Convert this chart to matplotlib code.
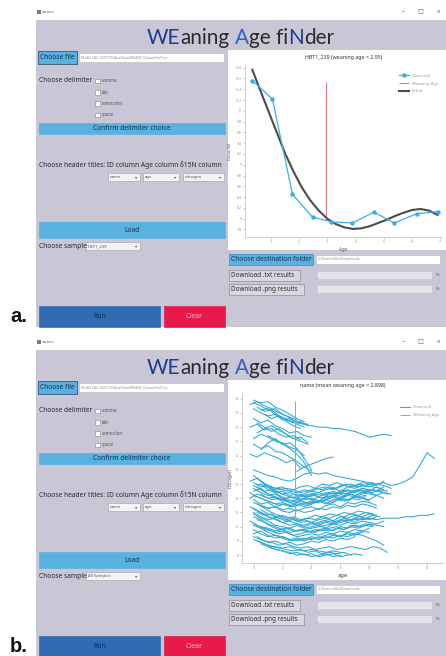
import matplotlib.pyplot as plt
from matplotlib.patches import Rectangle
import numpy as np

plt.rcParams['font.family'] = ['Noto Sans', 'DejaVu Sans']

# single sample HBT1_239: measured values and fitted curve
obs_age = [0.35, 1.06, 1.77, 2.48, 3.15, 3.89, 4.65, 5.37, 6.16, 6.91]
obs_n15 = [10.56, 10.22, 8.45, 8.03, 7.94, 7.92, 8.12, 7.92, 8.09, 8.13]
fit_age = [0.35, 0.6, 0.9, 1.2, 1.5, 1.8, 2.1, 2.4, 2.7, 3.0, 3.3, 3.6, 3.9,
           4.2, 4.5, 4.8, 5.1, 5.4, 5.7, 6.0, 6.3, 6.6, 6.9]
fit_n15 = [10.76, 10.42, 10.02, 9.62, 9.22, 8.88, 8.58, 8.34, 8.15, 8.00, 7.90, 7.84, 7.81,
           7.82, 7.86, 7.92, 7.98, 8.05, 8.11, 8.16, 8.18, 8.15, 8.07]
wean_a = 2.95
yticks_a = [7.8, 8.0, 8.2, 8.4, 8.6, 8.8, 9.0, 9.2, 9.4, 9.6, 9.8, 10.0, 10.2, 10.4, 10.6, 10.8]
xticks_a = [1, 2, 3, 4, 5, 6, 7]

# all samples: (first age, nitrogen values every half year)
age_step = 0.5
high_group = [
    (0.0, [18.9, 18.7, 18.8, 18.4, 18.2, 17.9, 17.6, 17.4]),
    (-0.25, [18.6, 18.8, 18.5, 18.3, 18.0, 17.8, 17.5, 17.3, 17.2]),
    (0.25, [18.4, 18.1, 18.2, 17.8, 17.6, 17.3, 17.4, 17.1]),
    (0.5, [18.2, 18.3, 17.9, 17.5, 17.6, 17.2, 17.0]),
    (0.0, [18.7, 18.5, 18.2, 18.3, 17.9, 17.7, 17.5]),
    (0.0, [18.3, 18.0, 17.8, 17.9, 17.6, 17.4, 17.3, 17.2, 17.1, 17.0,
           17.0, 16.9, 16.9, 16.8, 16.7, 16.5, 16.3, 16.4, 16.5, 16.4]),
    (0.75, [17.9, 17.6, 17.8, 17.4, 17.1, 16.9]),
    (0.0, [17.6, 17.3, 17.5, 17.1, 16.9, 16.6, 16.7, 16.4, 16.3]),
    (-0.25, [17.0, 17.2, 16.8, 16.9, 16.5, 16.3, 16.4, 16.1]),
    (0.25, [17.3, 17.0, 16.7, 16.9, 16.5, 16.2, 16.3, 15.9]),
    (0.25, [16.6, 16.9, 17.1, 16.8, 16.5, 16.2, 16.0, 15.8]),
    (0.0, [16.2, 16.5, 16.3, 16.0, 15.9, 15.6, 15.4, 15.0]),
    (1.0, [16.4, 16.1, 15.8, 15.9, 15.5, 14.8, 14.0]),
    (0.0, [15.8, 15.5, 15.7, 15.3, 15.2, 14.9, 14.6, 14.2, 13.9]),
    (0.5, [15.4, 15.9, 16.2, 15.8, 15.5, 15.1, 14.5, 13.6]),
    (-0.25, [15.1, 14.9, 15.2, 15.0, 14.8, 14.5, 14.7, 14.1]),
    (0.0, [14.0, 13.8, 13.6, 13.5, 13.3, 13.2, 13.4]),
    (3.0, [13.9, 14.2, 14.4, 14.6, 14.8, 14.9]),
    (3.0, [13.4, 13.7, 13.8, 13.7, 13.8, 13.6, 13.5, 13.4, 13.3, 13.2,
           13.1, 13.0, 13.1, 12.9, 13.0, 13.2, 13.5, 14.3, 15.2, 14.8]),
]
mid_group = [
    (0.0, [13.6, 13.2, 12.9, 12.7, 12.8, 12.5, 12.4, 12.6, 12.5, 12.7, 12.8, 12.6, 12.9, 13.0, 12.8, 13.1, 13.0, 12.9, 13.2]),
    (0.0, [13.1, 12.8, 12.9, 12.5, 12.3, 12.4, 12.2, 12.3, 12.5, 12.4, 12.6, 12.7, 12.5, 12.8, 12.7, 12.9, 12.8, 13.0, 12.9, 12.7]),
    (0.25, [12.8, 12.5, 12.6, 12.2, 12.0, 12.1, 11.9, 12.1, 12.2, 12.0, 12.3, 12.4, 12.2, 12.5, 12.6, 12.4, 12.6, 12.5, 12.3]),
    (0.0, [12.5, 12.7, 12.3, 12.1, 11.9, 11.7, 11.8, 11.9, 12.0, 11.8, 12.1, 12.2, 12.0, 12.3, 12.2, 12.4, 12.3, 12.2]),
    (0.0, [12.2, 12.0, 11.8, 11.6, 11.7, 11.5, 11.6, 11.4, 11.7, 11.8, 11.6, 11.9, 12.0, 11.8, 12.1, 12.0, 11.9, 12.2, 12.0]),
    (0.5, [13.0, 12.6, 12.4, 12.5, 12.2, 12.3, 12.1, 12.3, 12.4, 12.2, 12.5, 12.3, 12.6, 12.4, 12.7, 12.5, 12.8, 12.6]),
    (0.0, [11.9, 11.6, 11.7, 11.4, 11.2, 11.3, 11.1, 11.3, 11.4, 11.2, 11.5, 11.6, 11.4, 11.7, 11.6, 11.8, 11.7, 11.5]),
    (0.25, [13.4, 13.0, 12.7, 12.4, 12.2, 12.0, 12.2, 12.1, 12.3, 12.2, 12.4, 12.3, 12.5, 12.4, 12.6, 12.5, 12.4, 12.6, 12.5]),
    (-0.25, [12.0, 12.3, 12.1, 11.9, 12.0, 11.8, 11.6, 11.8, 11.7, 11.9, 11.8, 12.0, 12.2, 12.1, 12.3, 12.1, 12.2]),
    (0.5, [11.5, 11.3, 11.4, 11.1, 11.0, 11.2, 11.0, 11.1, 11.3, 11.2, 11.4, 11.3, 11.5, 11.4, 11.6, 11.5, 11.3]),
    (0.0, [12.9, 12.6, 12.3, 12.0, 11.8, 11.9, 11.7, 11.6, 11.8, 11.7, 11.9, 12.1, 11.9, 12.2, 12.1, 12.3, 12.4, 12.2, 12.4, 12.3]),
    (-0.25, [13.2, 13.4, 13.0, 12.8, 12.6, 12.7, 12.6, 12.8, 12.9, 12.7, 13.0, 12.9, 13.1, 12.9, 13.0, 12.8, 12.9, 13.1]),
    (0.0, [12.7, 12.4, 12.2, 12.3, 12.0, 11.8, 11.9, 12.0, 11.9, 12.1, 12.0, 12.2, 12.4, 12.3, 12.5, 12.4, 12.6, 12.5, 12.4]),
    (0.25, [13.0, 12.9, 12.6, 12.7, 12.5, 12.6, 12.4, 12.5, 12.7, 12.6, 12.8, 12.7, 12.9, 12.8, 13.0, 12.9, 12.8, 12.7]),
    (-0.25, [12.4, 12.1, 11.9, 11.7, 11.5, 11.6, 11.4, 11.6, 11.5, 11.7, 11.8, 11.6, 11.9, 11.8, 12.0, 11.9, 12.1]),
    (0.5, [12.3, 12.0, 12.1, 11.9, 12.1, 12.0, 12.2, 12.3, 12.1, 12.4, 12.3, 12.5, 12.6, 12.4, 12.7, 12.6, 12.5, 12.8]),
    (0.0, [11.7, 11.5, 11.3, 11.4, 11.6, 11.4, 11.5, 11.7, 11.6, 11.8, 11.9, 11.7, 12.0, 11.9, 12.1, 12.0, 11.8]),
]
low_group = [
    (0.0, [11.3, 11.0, 10.7, 10.5, 10.3, 10.4, 10.2, 10.1, 10.3, 10.2, 10.4, 10.3, 10.5, 10.4, 10.6, 10.5, 10.6, 10.5]),
    (0.0, [10.9, 10.6, 10.4, 10.1, 10.0, 9.9, 10.1, 9.9, 10.0, 10.1, 9.9, 10.2, 10.1, 10.3, 10.2, 10.4, 10.3, 10.2, 10.4]),
    (0.25, [11.0, 10.8, 10.9, 10.6, 10.4, 10.5, 10.3, 10.4, 10.2, 10.4, 10.5, 10.3, 10.6, 10.5, 10.7, 10.6, 10.8, 10.7]),
    (-0.25, [10.4, 10.1, 9.8, 9.7, 9.5, 9.6, 9.4, 9.5, 9.7, 9.6, 9.8, 9.7, 9.9, 9.8, 10.0, 9.9, 10.1, 10.0]),
    (0.0, [10.1, 9.9, 9.6, 9.4, 9.3, 9.1, 9.2, 9.1, 9.3, 9.2, 9.4, 9.5, 9.3, 9.6, 9.5, 9.7, 9.6]),
    (0.5, [11.2, 10.9, 10.7, 10.8, 10.6, 10.4, 10.5, 10.3, 10.5, 10.6, 10.4, 10.7, 10.6, 10.8, 10.7, 10.9, 10.8]),
    (0.0, [9.8, 9.5, 9.3, 9.4, 9.2, 9.0, 9.1, 9.0, 9.2, 9.1, 9.3, 9.2, 9.4, 9.3, 9.5, 9.4, 9.2, 9.0, 8.7]),
    (0.0, [10.7, 10.5, 10.2, 10.0, 9.8, 9.9, 9.7, 9.8, 9.6, 9.8, 9.9, 9.7, 10.0, 9.9, 10.1, 10.0, 10.2, 10.1, 10.0]),
    (0.25, [11.6, 11.3, 11.0, 10.8, 10.6, 10.7, 10.5, 10.6, 10.8, 10.7, 10.9, 10.8, 11.0, 10.9, 11.1, 11.0, 10.9]),
    (0.0, [10.2, 10.0, 9.9, 9.7, 9.8, 9.6, 9.7, 9.8, 9.9, 10.0, 10.1, 10.2, 10.3,
           10.4, 10.5, 10.5, 10.6, 10.5, 10.6, 10.6, 10.6, 10.7, 10.7, 10.8, 10.8, 10.9]),
    (0.0, [9.5, 9.7, 9.4, 9.2, 9.3, 9.1, 9.0, 9.2, 9.1, 9.3, 9.2, 9.4, 9.3, 9.5, 9.4, 9.6]),
    (0.0, [11.0, 10.7, 10.5, 10.6, 10.3, 10.1, 10.2, 10.0, 10.2, 10.1, 10.3, 10.2, 10.4, 10.5, 10.3, 10.6, 10.5, 10.7]),
    (0.25, [10.5, 10.3, 10.0, 9.8, 9.9, 9.7, 9.8, 9.6, 9.8, 9.7, 9.9, 10.0, 9.8, 10.1, 10.0, 10.2, 10.1]),
    (-0.25, [11.4, 11.1, 10.9, 10.6, 10.7, 10.5, 10.6, 10.4, 10.6, 10.5, 10.7, 10.6, 10.8, 10.7, 10.9, 10.8, 11.0, 10.9]),
    (0.5, [10.0, 9.8, 9.6, 9.7, 9.5, 9.3, 9.4, 9.5, 9.4, 9.6, 9.5, 9.7, 9.6, 9.8, 9.7, 9.9]),
    (0.0, [9.3, 9.1, 8.9, 9.0, 8.8, 8.9, 8.7, 8.8, 9.0, 8.9, 9.1, 9.0, 9.2, 9.1, 9.3]),
]
bottom_group = [
    (0.25, [9.0, 8.8, 8.6, 8.5, 8.4, 8.3, 8.4, 8.2, 8.3, 8.1, 8.2, 8.1, 8.2, 8.0]),
    (0.5, [8.8, 8.6, 8.4, 8.3, 8.1, 8.2, 8.0, 8.1, 7.9, 8.0, 8.1, 7.9, 8.0, 8.1, 8.0]),
    (0.25, [9.3, 9.0, 8.9, 8.7, 8.8, 8.6, 8.5, 8.6, 8.4, 8.5, 8.6, 8.4, 8.5, 8.6, 8.5, 8.4, 8.6, 8.5, 8.2]),
    (0.0, [9.1, 8.9, 8.7, 8.6, 8.5, 8.6, 8.4, 8.3, 8.4, 8.3, 8.2, 8.3, 8.2]),
    (1.0, [8.6, 8.4, 8.3, 8.2, 8.0, 8.1, 7.9, 8.0, 8.1, 7.9, 8.0]),
]
wean_b = 2.898
yticks_b = [8, 9, 10, 11, 12, 13, 14, 15, 16, 17, 18, 19]
xticks_b = [0, 2, 4, 6, 8, 10, 12]

WIN = '#c9c7d5'
BTN = '#58b2e0'
NAVY = '#1d3a8c'
BLUE = '#2b62c4'
DARK = '#2a2a2e'
CYAN = '#38b1e0'
TITLE_FONT = ['Lato', 'Noto Sans', 'DejaVu Sans']

fig = plt.figure(figsize=(4.46, 6.56), dpi=100)
bg = fig.add_axes([0, 0, 1, 1])
bg.set_xlim(0, 446)
bg.set_ylim(656, 0)
bg.axis('off')
renderer = fig.canvas.get_renderer()


def box(x0, y0, x1, y1, fc, ec='none', lw=0.5, z=1):
    bg.add_patch(Rectangle((x0, y0), x1 - x0, y1 - y0, facecolor=fc,
                           edgecolor=ec, linewidth=lw, zorder=z))


def label(x, y, s, size=4.8, color=DARK, ha='left', **kw):
    return bg.text(x, y, s, fontsize=size, color=color, ha=ha, va='center', zorder=5, **kw)


def width(s, **kw):
    t = bg.text(0, 0, s, **kw)
    w = t.get_window_extent(renderer).width
    t.remove()
    return w


def dropdown(x0, x1, y, s):
    box(x0, y - 4, x1, y + 4, '#f3f3f6', '#9c9ca8', 0.4, z=2)
    label(x0 + 2, y, s, size=3.0, color='#555555')
    label(x1 - 3.5, y, '▾', size=3.2, color='#555555', ha='center')


def button(x0, y0, x1, y1, s, fc=BTN, tc='#1c2c50', size=4.8, ec='#3b8cbf'):
    box(x0, y0, x1, y1, fc, ec, 0.5, z=2)
    label((x0 + x1) / 2, (y0 + y1) / 2, s, size=size, color=tc, ha='center')


def flat_button(x0, y0, x1, y1, s):
    box(x0, y0, x1, y1, '#d9d8e2', '#8e8d99', 0.5, z=2)
    label(x0 + 2, (y0 + y1) / 2, s, size=4.5, color=DARK)


# title size chosen so the heading spans ~187 px
full_title = 'WEaning Age fiNder'
title_size = 18 * 187 / width(full_title, fontsize=18, family=TITLE_FONT)


def window(oy, sample, tag):
    # title bar
    box(37, oy + 10, 40.5, oy + 14, '#7a7a88')
    label(42, oy + 12, 'weans', size=3.0, color='#666666')
    for x, s in [(403, '–'), (420, '□'), (438, '×')]:
        label(x, oy + 12, s, size=4.5, color='#666666', ha='center')
    box(36, oy + 20, 446, oy + 327, WIN)

    # application title, coloured letters
    parts = [('WE', NAVY), ('aning ', DARK), ('A', BLUE), ('ge fi', DARK), ('N', NAVY), ('der', DARK)]
    kw = dict(fontsize=title_size, family=TITLE_FONT)
    start = 240.5 - width(full_title, **kw) / 2
    end = 0
    for piece, col in parts:
        end += len(piece)
        p = piece.strip()
        x = start + width(full_title[:end].rstrip(), **kw) - width(p, **kw)
        label(x, oy + 38, p, size=title_size, color=col, family=TITLE_FONT)

    # file and delimiter controls
    button(38, oy + 51, 77, oy + 64, 'Choose file', ec='#27415e')
    box(79, oy + 52.5, 224, oy + 62, 'white', '#b8b8c4', 0.4, z=2)
    label(81, oy + 57, 'M:/AN CAL/14/ST/TS/Ana/Data/WEANS_DatasetHalf.csv', size=2.4, color='#8a8a95')
    label(39, oy + 81, 'Choose delimiter')
    for i, s in enumerate(['comma', 'tab', 'semicolon', 'space']):
        y = oy + 81 + i * 11.3
        box(95, y - 2.2, 99.5, y + 2.2, 'white', '#808088', 0.4, z=2)
        label(102, y, s, size=3.2, color='#555555')
    button(39, oy + 123, 225, oy + 134, 'Confirm delimiter choice', ec=BTN)
    label(39, oy + 165, 'Choose header titles: ID column Age column δ15N column')
    dropdown(108, 140, oy + 177, 'name')
    dropdown(143, 179, oy + 177, 'age')
    dropdown(183, 224, oy + 177, 'nitrogen')
    button(39, oy + 222, 225, oy + 238, 'Load', ec=BTN)
    label(39, oy + 246, 'Choose sample')
    dropdown(86, 140, oy + 246, sample)

    # run / clear
    button(39, oy + 306, 160, oy + 327, 'Run', fc='#2f6cb3', tc='#182a55', size=5, ec='#2f6cb3')
    button(164, oy + 306, 225, oy + 327, 'Clear', fc='#e8194b', tc='#f7b7c6', size=5, ec='#e8194b')
    bg.text(10, oy + 317, tag, fontsize=14.5, fontweight='bold', color='#111111',
            family=['Liberation Sans', 'DejaVu Sans'], va='center', ha='left')

    # plot area and export controls
    box(228, oy + 50, 446, oy + 250, 'white')
    button(229, oy + 254, 313, oy + 265, 'Choose destination folder', ec='#3b8cbf')
    box(316, oy + 255, 440, oy + 264, 'white', '#b8b8c4', 0.4, z=2)
    label(318, oy + 259.5, 'C:/Users/ellie/Downloads', size=2.6, color='#8a8a95')
    flat_button(229, oy + 270, 300, oy + 281, 'Download .txt results')
    flat_button(229, oy + 284, 304, oy + 295, 'Download .png results')
    for y in (oy + 275, oy + 289):
        box(317, y - 3.8, 432, y + 3.8, '#e4e4ea', '#c4c4ce', 0.4, z=2)
        label(436, y, '0%', size=2.6, color='#666666')


def px_axes(left, top, right, bottom):
    return fig.add_axes([left / 446, 1 - bottom / 656, (right - left) / 446, (bottom - top) / 656])


def style(ax):
    ax.set_facecolor('none')
    for s in ('top', 'right'):
        ax.spines[s].set_visible(False)
    for s in ('left', 'bottom'):
        ax.spines[s].set_color('#bdbdbd')
        ax.spines[s].set_linewidth(0.5)
    ax.tick_params(labelsize=2.6, colors='#9a9a9a', length=1.5, width=0.4, pad=1)


window(0, 'HBT1_239', 'a.')
window(330, 'All Samples', 'b.')

# panel a plot
axa = px_axes(245, 65, 442, 237)
style(axa)
h_fit, = axa.plot(fit_age, fit_n15, color='#4b4b4b', lw=1.5, label='Fitted', zorder=2)
h_obs, = axa.plot(obs_age, obs_n15, color=CYAN, lw=0.9, marker='o', ms=2.2,
                  label='Observed', zorder=3)
h_wean = axa.vlines(wean_a, 7.97, 10.53, color='#e5707f', lw=0.7, label='Weaning Age', zorder=1)
axa.set_xlim(0.09, 7.06)
axa.set_ylim(7.66, 10.85)
axa.set_xticks(xticks_a)
axa.set_yticks(yticks_a)
axa.set_yticklabels([f'{v:g}' for v in yticks_a])
axa.set_title('HBT1_239 (weaning age = 2.95)', fontsize=3.8, color='#333333', pad=4)
axa.set_xlabel('Age', fontsize=3.2, color='#555555', labelpad=1.5)
axa.set_ylabel('Delta (N)', fontsize=3.0, color='#555555', labelpad=1.5)
axa.legend([h_obs, h_wean, h_fit], ['Observed', 'Weaning Age', 'Fitted'], loc='upper right',
           bbox_to_anchor=(1.0, 0.97), frameon=False, fontsize=3.0, labelcolor='#9a9a9a',
           handlelength=2.2, markerscale=1.0, labelspacing=0.9)

# panel b plot
axb = px_axes(242, 393, 443, 563)
style(axb)
for group in (high_group, mid_group, low_group, bottom_group):
    for first, vals in group:
        ages = first + age_step * np.arange(len(vals))
        h_all, = axb.plot(ages, vals, color='#2ea7da', lw=0.75, label='Observed')
h_wb = axb.vlines(wean_b, 10.6, 18.83, color='#d583a6', lw=0.7, label='Weaning Age', zorder=3)
axb.set_xlim(-0.8, 13.1)
axb.set_ylim(7.45, 19.4)
axb.set_xticks(xticks_b)
axb.set_yticks(yticks_b)
axb.set_title('name (mean weaning age = 2.898)', fontsize=3.8, color='#333333', pad=4)
axb.set_xlabel('age', fontsize=4.2, color='#444444', labelpad=2)
axb.set_ylabel('nitrogen', fontsize=3.6, color='#444444', labelpad=1.5)
axb.legend([h_all, h_wb], ['Observed', 'Weaning Age'], loc='upper right',
           bbox_to_anchor=(1.0, 0.95), frameon=False, fontsize=3.0, labelcolor='#9a9a9a',
           handlelength=2.2, labelspacing=0.9)

fig.savefig('out.png', dpi=100)
